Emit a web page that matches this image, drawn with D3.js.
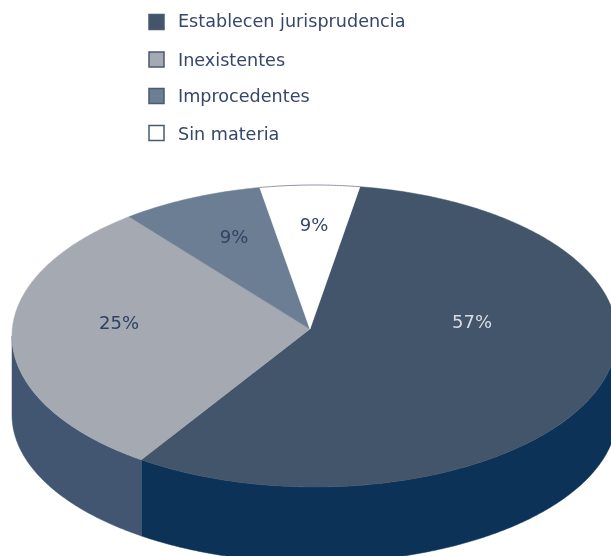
<!DOCTYPE html>
<html>
<head>
<meta charset="utf-8">
<script src="https://cdn.jsdelivr.net/npm/d3@7"></script>
<style>
  html, body { margin: 0; padding: 0; background: #fff; }
  svg { display: block; }
  text { font-family: "DejaVu Sans", sans-serif; }
</style>
</head>
<body>
<div class="chart"></div>
<script>
// data
var categories = ["Establecen jurisprudencia", "Inexistentes", "Improcedentes", "Sin materia"];
var percentLabels = ["57%", "25%", "9%", "9%"];
// share of the drawn disc each slice really takes up (the picture does not follow its labels)
var drawnShares = [57.3, 29.8, 7.6, 5.3];
var topColors = ["#43546b", "#a5aab2", "#6c7e93", "#ffffff"];
var sideColors = ["#0a3358", "#425672", "#6c7e93", "#ffffff"];
var legendTextColor = "#36466a";
var labelColors = ["#d9dde3", "#2f4263", "#2f4263", "#36466a"];

var svgWidth = 611;
var svgHeight = 556;
var startAngle = 8.65 * Math.PI / 180;

var svg = d3.select(".chart")
  .append("svg")
  .attr("width", svgWidth)
  .attr("height", svgHeight);

// the reference is a soft scan, so everything gets a touch of blur
svg.append("defs").append("filter")
  .attr("id", "soft")
  .append("feGaussianBlur")
  .attr("stdDeviation", 0.45);

var chartGroup = svg.append("g").attr("filter", "url(#soft)");

// unit disc -> picture; the disc runs off the right edge a little
var xScale = d3.scaleLinear().domain([-1, 1]).range([12, 617]);
var yScale = d3.scaleLinear().domain([-1, 1]).range([185, 487]);
// the bottom rim is a slightly flatter ellipse than the top one
var yScaleBottom = d3.scaleLinear().domain([-1, 1]).range([267.5, 562.5]);
// the slices meet a bit up and left of the middle of the ellipse
var apex = [xScale(-0.015), yScale(-0.046)];

function rimPoints(a0, a1, y) {
  var n = Math.max(2, Math.ceil(Math.abs(a1 - a0) / 0.01));
  return d3.range(n + 1).map(function(i) {
    var a = a0 + (a1 - a0) * i / n;
    return [xScale(Math.sin(a)), y(-Math.cos(a))];
  });
}

var line = d3.line();

var pie = d3.pie()
  .sort(null)
  .startAngle(startAngle)
  .endAngle(startAngle + 2 * Math.PI);

var slices = pie(drawnShares);

// side wall: only the front half of the rim shows
var sideGroup = chartGroup.append("g");
slices.forEach(function(d, i) {
  var a0 = Math.max(d.startAngle, Math.PI / 2);
  var a1 = Math.min(d.endAngle, 3 * Math.PI / 2);
  if (a1 <= a0) return;
  var pts = rimPoints(a0, a1, yScale).concat(rimPoints(a1, a0, yScaleBottom));
  sideGroup.append("path")
    .attr("d", line(pts) + "Z")
    .attr("fill", sideColors[i])
    .attr("stroke", sideColors[i])
    .attr("stroke-width", 0.5);
});

// top of the disc
var topGroup = chartGroup.append("g");
slices.forEach(function(d, i) {
  var pts = [apex].concat(rimPoints(d.startAngle, d.endAngle, yScale));
  topGroup.append("path")
    .attr("d", line(pts) + "Z")
    .attr("fill", topColors[i])
    .attr("stroke", topColors[i])
    .attr("stroke-width", 0.5);
});

// thin grey edge above the white slice
topGroup.append("path")
  .attr("d", line(rimPoints(slices[3].startAngle, slices[3].endAngle, yScale)))
  .attr("fill", "none")
  .attr("stroke", "#8d96a3")
  .attr("stroke-width", 1);

// percent labels
var labelX = [472, 119, 234, 314];
var labelY = [322, 323, 237, 225];
chartGroup.append("g").selectAll("text")
  .data(percentLabels)
  .enter()
  .append("text")
  .attr("x", function(d, i) { return labelX[i]; })
  .attr("y", function(d, i) { return labelY[i]; })
  .attr("dy", "0.36em")
  .attr("text-anchor", "middle")
  .attr("font-size", "18px")
  .attr("fill", function(d, i) { return labelColors[i]; })
  .text(function(d) { return d; });

// legend, rows are not quite evenly spaced
var swatchY = [22, 59.5, 96, 133];
var legendLabelY = [20.5, 60, 96, 134];
var legend = chartGroup.append("g").selectAll("g")
  .data(categories)
  .enter()
  .append("g");

legend.append("rect")
  .attr("x", 149)
  .attr("y", function(d, i) { return swatchY[i] - 7.5; })
  .attr("width", 15)
  .attr("height", 15)
  .attr("fill", function(d, i) { return topColors[i]; })
  .attr("stroke", "#4a5a73")
  .attr("stroke-width", 1.5);

legend.append("text")
  .attr("x", 178)
  .attr("y", function(d, i) { return legendLabelY[i]; })
  .attr("dy", "0.36em")
  .attr("font-size", "17.6px")
  .attr("fill", legendTextColor)
  .text(function(d) { return d; });
</script>
</body>
</html>
